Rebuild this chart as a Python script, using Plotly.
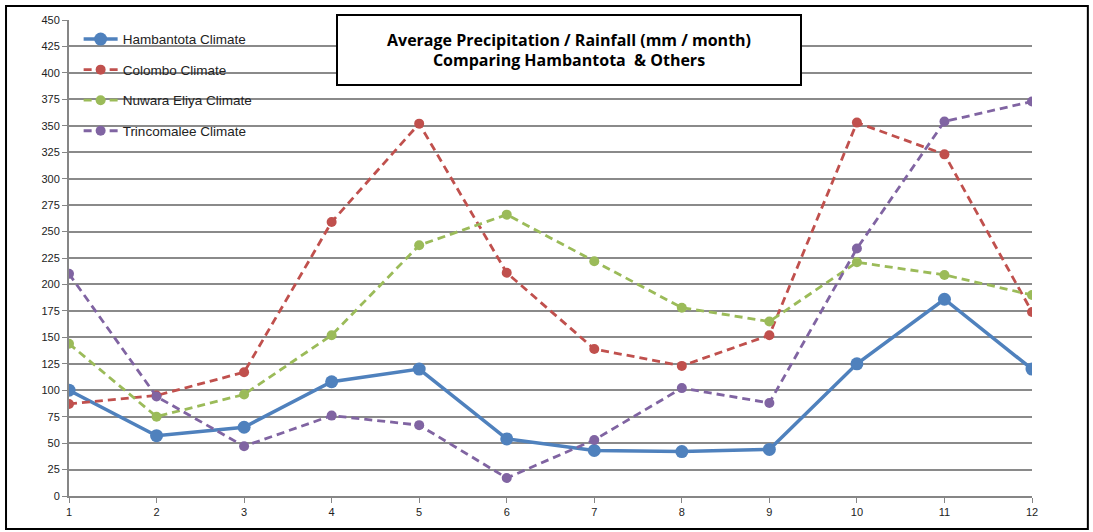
import plotly.graph_objects as go

months = list(range(1, 13))
hambantota = [100, 57, 65, 108, 120, 54, 43, 42, 44, 125, 186, 120]
colombo = [87, 95, 117, 259, 352, 211, 139, 123, 152, 353, 323, 174]
nuwara_eliya = [144, 75, 96, 152, 237, 266, 222, 178, 165, 221, 209, 190]
trincomalee = [210, 94, 47, 76, 67, 17, 53, 102, 88, 234, 354, 373]

series = [
    ("Hambantota Climate", hambantota, "#4F81BD", "solid", 3.5, 13),
    ("Colombo Climate", colombo, "#C0504D", "8px,5px", 2.8, 10),
    ("Nuwara Eliya Climate", nuwara_eliya, "#9BBB59", "8px,5px", 2.8, 10),
    ("Trincomalee Climate", trincomalee, "#8064A2", "8px,5px", 2.8, 10),
]

fig = go.Figure()
for i, (name, vals, color, dash, lw, ms) in enumerate(series):
    fig.add_trace(go.Scatter(
        x=months, y=vals, name=name, mode="lines+markers",
        line=dict(color=color, width=lw, dash=dash),
        marker=dict(color=color, size=ms),
        legendgroup=f"g{i}",
    ))

fig.update_layout(
    width=1093, height=532,
    margin=dict(l=69, r=61, t=20, b=36),
    paper_bgcolor="white", plot_bgcolor="white",
    font=dict(family="Liberation Sans, Arial, sans-serif", size=11, color="#222"),
    showlegend=True,
    legend=dict(x=0.01, y=0.992, xanchor="left", yanchor="top",
                bgcolor="rgba(0,0,0,0)", font=dict(size=13.5, color="#222"),
                traceorder="grouped", tracegroupgap=10, itemwidth=34),
    xaxis=dict(range=[1, 12], tickvals=months, ticks="outside", ticklen=5,
               tickcolor="#868686", showline=True, linecolor="#868686", linewidth=2,
               showgrid=False, zeroline=False, tickfont=dict(size=11)),
    yaxis=dict(range=[0, 450], dtick=25, ticks="outside", ticklen=5,
               tickcolor="#868686", showline=True, linecolor="#868686", linewidth=2,
               showgrid=True, gridcolor="#8A8A8A", gridwidth=1.8, zeroline=False,
               tickfont=dict(size=11)),
)

# outer frame
fig.add_shape(type="rect", xref="paper", yref="paper",
              x0=-0.0654, x1=1.058, y0=-0.0693, y1=1.0294,
              line=dict(color="black", width=2), layer="below")

# title box
fig.add_annotation(
    xref="paper", yref="paper", x=(569 - 69) / 963, y=(496 - 50) / 476,
    xanchor="center", yanchor="middle",
    text="<b>Average Precipitation / Rainfall (mm / month)<br>Comparing Hambantota  &amp; Others</b>",
    showarrow=False, font=dict(size=16, color="black", family="Open Sans, Liberation Sans, sans-serif"),
    bgcolor="white", bordercolor="black", borderwidth=2,
    width=460, height=66, align="center",
)

fig.write_html("out.html", config={"displayModeBar": False},
               post_script="document.body.style.margin='0';document.body.style.overflow='hidden';")
